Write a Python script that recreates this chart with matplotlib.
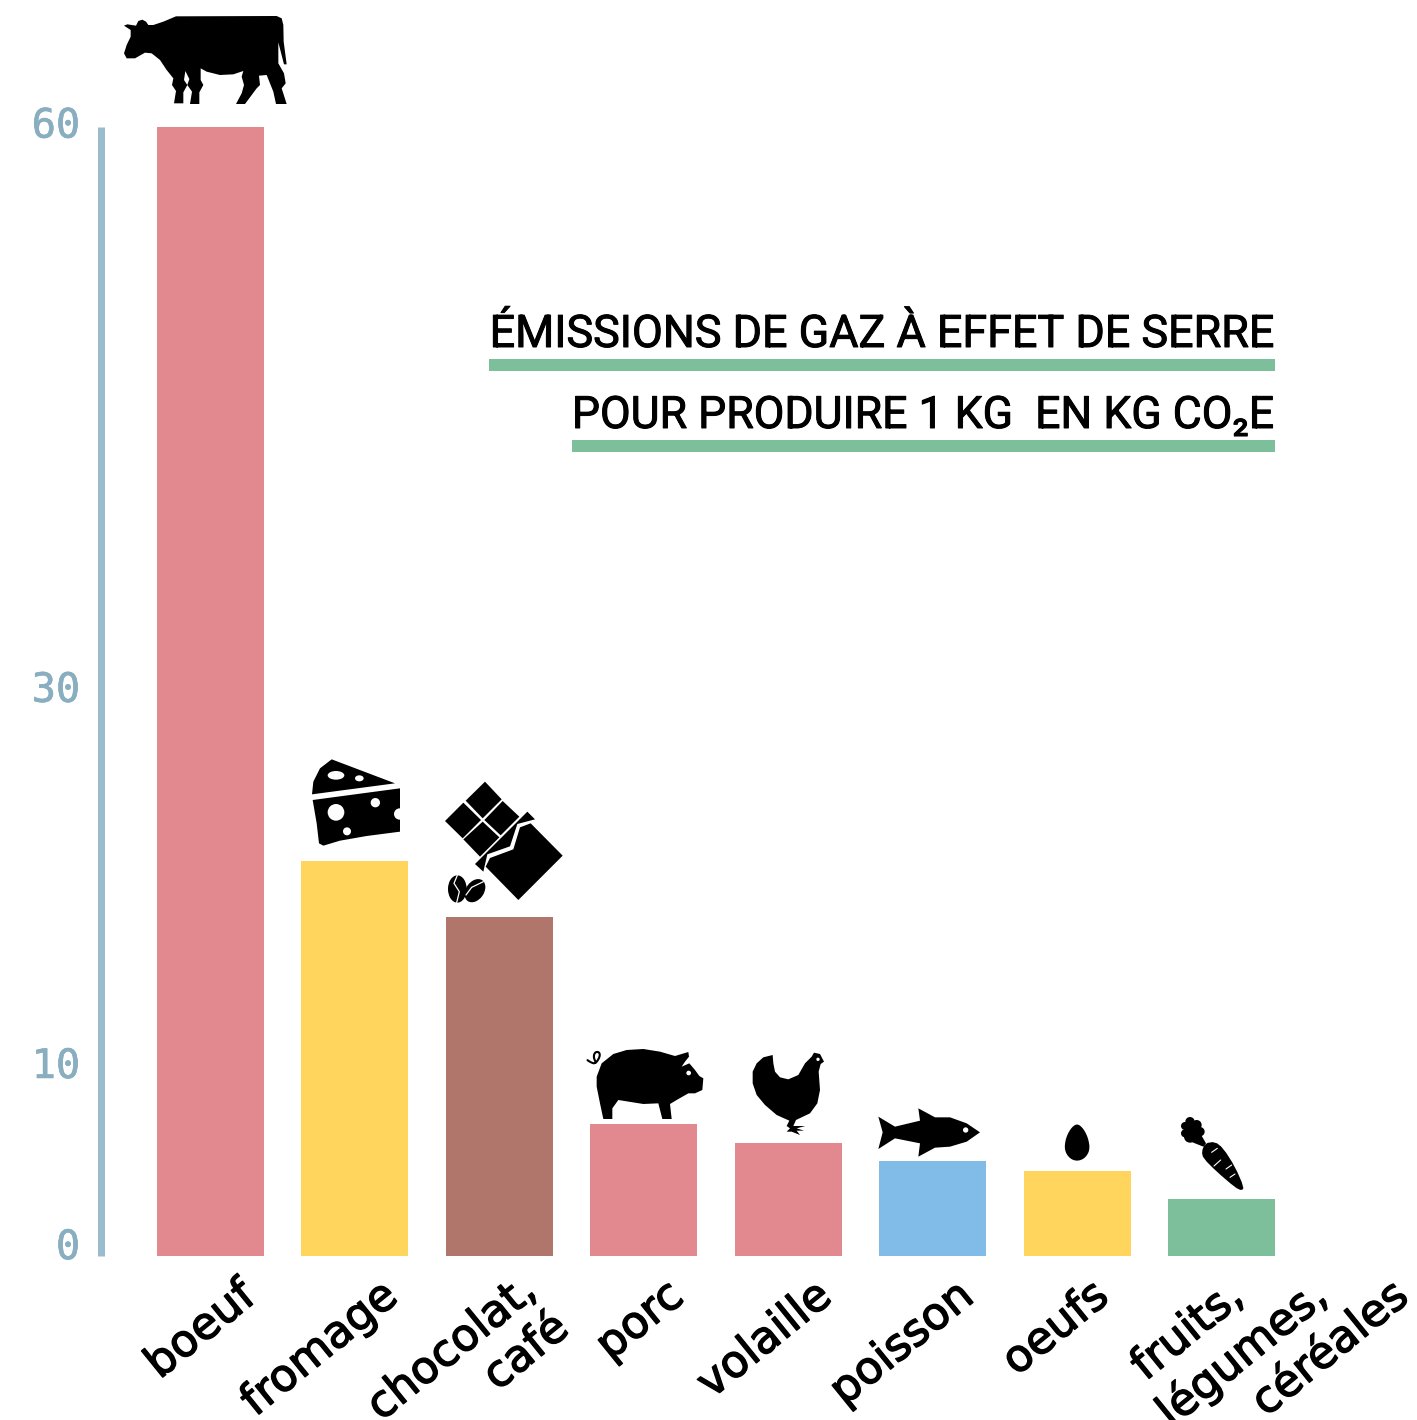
import matplotlib
matplotlib.use("Agg")
import matplotlib.pyplot as plt
import matplotlib.patheffects as pe
from matplotlib.patches import Polygon, Circle, Ellipse, Rectangle
from matplotlib.transforms import ScaledTranslation
import numpy as np

categories = ["boeuf", "fromage", "chocolat,\ncafé", "porc", "volaille", "poisson", "oeufs", "fruits,\nlégumes,\ncéréales"]
values = [60, 21, 18, 7, 6, 5, 4.5, 3]
bar_colors = ["#E2898F", "#FFD55E", "#B0766B", "#E2898F", "#E2898F", "#81BCE9", "#FFD55E", "#7DBE9B"]
y_ticks = [0, 10, 30, 60]
title_lines = ["ÉMISSIONS DE GAZ À EFFET DE SERRE", "POUR PRODUIRE 1 KG  EN KG CO₂E"]

W, H = 1417, 1420
fig = plt.figure(figsize=(W / 100, H / 100), dpi=100, facecolor="white")

def fx(p): return p / W
def fy(p): return 1 - p / H

# main axes: bars
left_px, right_px, top_px, bot_px = 101, 1417, 127, 1255.5
ax = fig.add_axes([fx(left_px), fy(bot_px), (right_px - left_px) / W, (bot_px - top_px) / H])
step = 144.43
ax.set_xlim((left_px - 210.5) / step, (right_px - 210.5) / step)
ax.set_ylim(0, 60)
ax.bar(range(len(values)), values, width=107 / step, color=bar_colors, linewidth=0)
for s in ("top", "right", "bottom"):
    ax.spines[s].set_visible(False)
ax.spines["left"].set_color("#9BBCCF")
ax.spines["left"].set_linewidth(5.04)
ax.spines["left"].set_capstyle("butt")
ax.set_xticks([])
ax.set_yticks(y_ticks)
ax.set_yticklabels([str(t) for t in y_ticks], family="DejaVu Sans Mono", fontsize=29,
                   color="#88AEC0")
ax.tick_params(axis="y", length=0, pad=15)
for t, lab in zip(y_ticks, ax.get_yticklabels()):
    lab.set_path_effects([pe.withStroke(linewidth=0.5, foreground="#88AEC0")])
    off = 12 if t == 0 else 5
    lab.set_transform(lab.get_transform() + ScaledTranslation(0, off / 100, fig.dpi_scale_trans))

# overlay in pixel coordinates
ov = fig.add_axes([0, 0, 1, 1], facecolor="none")
ov.set_xlim(0, W)
ov.set_ylim(H, 0)
ov.axis("off")

# title
title_font = ["Roboto", "DejaVu Sans"]
for line, base, x0, y0, fs in zip(title_lines, (347, 428), (489, 572), (359, 440), (32.3, 32.1)):
    ov.text(1275, base, line, ha="right", va="baseline", family=title_font, fontsize=fs, color="black",
            path_effects=[pe.withStroke(linewidth=0.7, foreground="black")])
    ov.add_patch(Rectangle((x0, y0), 1275 - x0, 12, color="#7DBE9B", lw=0))

# category labels
label_anchor = [[(258, 1300)], [(400, 1300)], [(539, 1294), (571, 1332)], [(686, 1300)], [(834, 1300)],
                [(976, 1300)], [(1111, 1300)], [(1246, 1300), (1330, 1300), (1411, 1300)]]
for cat, anchors in zip(categories, label_anchor):
    for part, (x, y) in zip(cat.split("\n"), anchors):
        ov.text(x, y, part, rotation=39, rotation_mode="anchor", ha="right", va="baseline",
                family="DejaVu Sans", fontsize=32, color="black",
                path_effects=[pe.withStroke(linewidth=1.0, foreground="black")])

def chaikin(pts, n=1, closed=True):
    p = np.asarray(pts, float)
    for _ in range(n):
        q = np.roll(p, -1, axis=0)
        r = np.column_stack([0.75 * p + 0.25 * q, 0.25 * p + 0.75 * q]).reshape(-1, 2)
        p = r if closed else r[:-2]
    return p

def shape(pts, origin, smooth=0, color="black", z=3):
    p = np.asarray(pts, float) / 3 + origin
    if smooth:
        p = chaikin(p, smooth)
    ov.add_patch(Polygon(p, closed=True, fc=color, ec="none", zorder=z))

def disc(x, y, r, origin, color="white", z=4):
    ov.add_patch(Circle((x / 3 + origin[0], y / 3 + origin[1]), r / 3, fc=color, ec="none", zorder=z))

def stroke(pts, origin, color="white", lw=1.0, z=4, smooth=0):
    p = np.asarray(pts, float) / 3 + origin
    if smooth:
        p = chaikin(p, smooth, closed=False)
    ov.plot(p[:, 0], p[:, 1], color=color, lw=lw, zorder=z, solid_capstyle="round")

# cow
o = (110, 5)
shape([(42,62),(52,58),(78,62),(85,48),(97,44),(108,50),(115,60),(130,60),(160,50),(198,34),(500,33),(515,40),(520,60),
       (521,110),(530,178),(522,178),(505,112),(505,175),(522,205),(527,235),(515,250),(530,297),(498,297),(490,260),
       (470,210),(447,212),(450,240),(440,250),(405,297),(378,297),(395,265),(402,240),(395,215),(400,198),(370,208),
       (330,210),(290,200),(272,190),(272,225),(280,240),(268,262),(268,297),(240,297),(246,260),(232,240),(238,222),
       (226,198),(222,225),(232,240),(220,262),(220,295),(192,295),(198,258),(186,240),(190,220),(170,195),(150,165),
       (125,145),(105,143),(75,160),(50,160),(42,145),(50,120),(62,95),(62,75)], o)

# cheese
o = (300, 750)
shape([(36,133),(40,95),(60,55),(95,28),(285,100)], o)
shape([(38,150),(300,115),(300,245),(200,258),(120,272),(70,287),(57,280),(50,220)], o)
ov.add_patch(Ellipse((108 / 3 + 300, 76 / 3 + 750), 50 / 3, 26 / 3, fc="white", ec="none", zorder=4))
ov.add_patch(Ellipse((178 / 3 + 300, 85 / 3 + 750), 26 / 3, 18 / 3, fc="white", ec="none", zorder=4))
disc(108, 187, 25, o); disc(226, 158, 14, o); disc(141, 244, 12, o); disc(299, 192, 17, o)

# chocolate
shape([(555,95),(605,148),(548,205),(497,152)], o)
shape([(490,158),(543,210),(488,265),(435,213)], o)
shape([(608,153),(658,200),(602,256),(553,210)], o)
shape([(548,215),(598,262),(540,320),(490,268)], o)
shape([(525,342),(682,185),(705,208),(652,222),(630,289),(562,313),(550,365)], o)
shape([(692,220),(788,317),(655,450),(557,350),(570,324),(640,298),(660,232)], o)
ov.add_patch(Ellipse((472 / 3 + 300, 417 / 3 + 750), 56 / 3, 82 / 3, fc="black", ec="none", zorder=3))
ov.add_patch(Ellipse((525 / 3 + 300, 422 / 3 + 750), 54 / 3, 76 / 3, angle=35, fc="black", ec="none", zorder=3))
stroke([(472,376),(462,400),(478,425),(470,458)], o, lw=0.9)
stroke([(498,435),(515,412),(550,395)], o, lw=0.9)

# pig
o = (580, 1040)
shape([(50,110),(65,70),(100,42),(140,30),(190,27),(240,35),(285,48),(305,42),(325,36),(327,50),(315,65),(305,80),
       (328,70),(345,90),(358,108),(370,115),(367,150),(345,160),(325,160),(290,180),(270,192),(275,237),(247,237),
       (235,190),(190,192),(115,180),(97,205),(97,237),(70,237),(60,190),(50,140)], o)
disc(326, 99, 7, o)
stroke([(18,57),(30,66),(46,72),(60,50),(58,36),(45,36),(40,52),(52,76)], o, color="black", lw=1.5, z=3, smooth=2)

# hen
shape([(518,95),(530,70),(550,52),(578,45),(580,70),(585,95),(600,112),(625,118),(655,105),(675,70),(695,50),(702,38),
       (720,42),(732,65),(722,72),(716,95),(720,150),(712,190),(690,220),(648,240),(640,258),(676,258),(650,265),
       (672,272),(650,272),(660,285),(635,275),(620,275),(630,265),(620,258),(628,242),(590,225),(555,195),(530,165),
       (518,130)], o)
disc(714, 58, 5, o)

# fish
o = (870, 1100)
shape([(25,50),(75,80),(150,62),(145,25),(195,52),(240,52),(290,70),(330,97),(290,125),(240,140),(195,143),(145,170),
       (150,130),(75,115),(25,147),(38,97)], o)
disc(287, 90, 8, o)

# egg
shape([(621,70),(640,85),(655,115),(660,150),(645,175),(621,184),(598,175),(583,150),(587,115),(602,85)], o, smooth=2)

# carrot
for x, y, r in [(960,65,14),(945,78,12),(945,100,12),(980,75,15),(990,95,14),(960,110,18),(968,88,20)]:
    disc(x, y, r, o, color="black", z=3)
shape([(950,120),(985,90),(1008,130),(1000,140)], o)
shape([(1005,130),(1035,125),(1060,145),(1095,200),(1122,262),(1115,272),(1095,262),(1040,215),(1000,175),(995,155)], o, smooth=1)
for seg in [[(1025,157),(1042,145)], [(1032,198),(1052,180)], [(1068,207),(1085,195)], [(1080,232),(1095,222)]]:
    stroke(seg, o, lw=0.8)

fig.savefig("out.png", dpi=100)
